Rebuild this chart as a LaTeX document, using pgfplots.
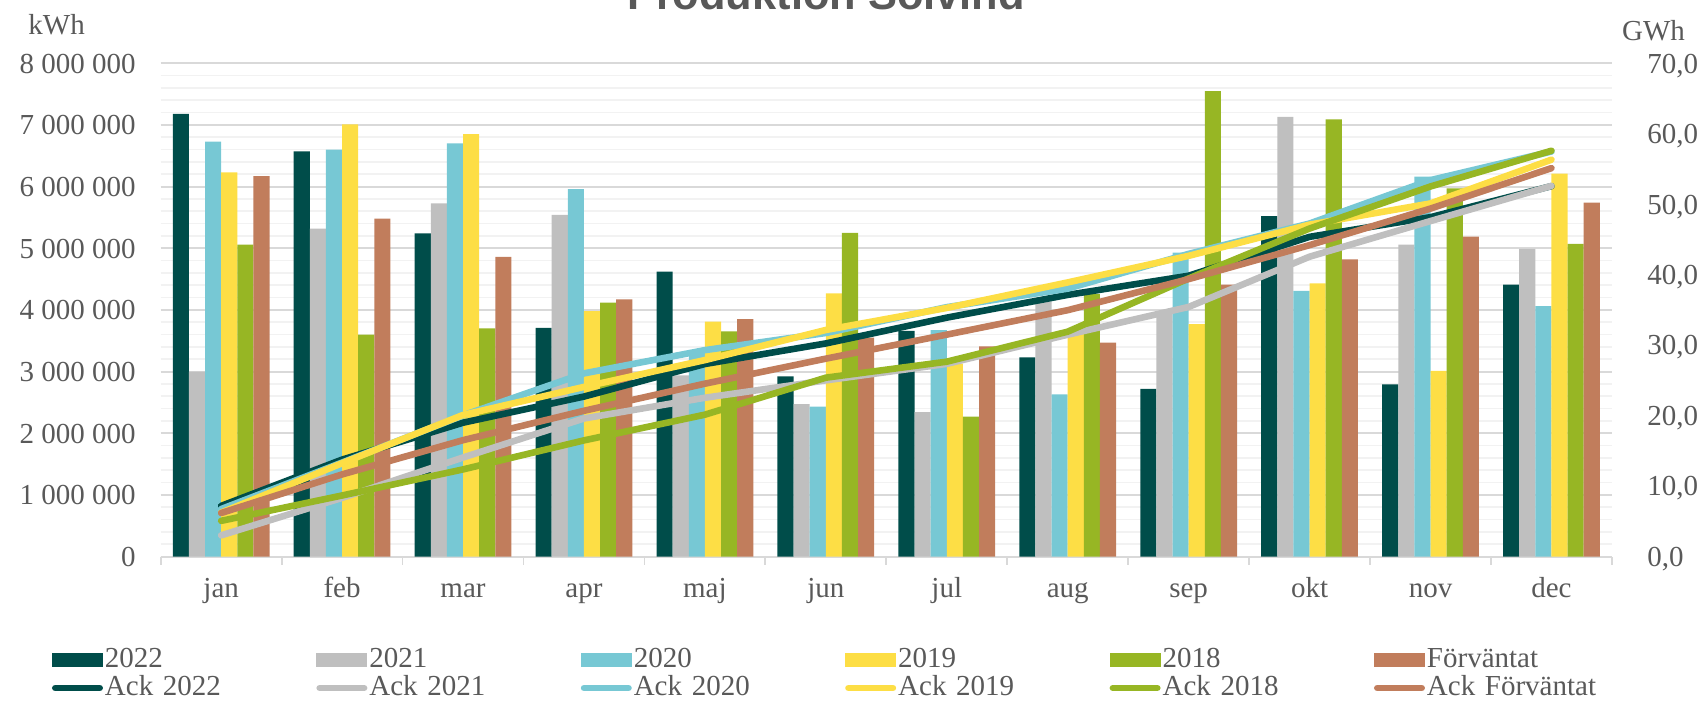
\documentclass[border=0pt]{standalone}
\usepackage{fontspec}
\setmainfont{Liberation Serif}
\newfontfamily\titlefont{Liberation Sans}
\usepackage{pgfplots}
\usepackage{pgfplotstable}
\pgfplotsset{compat=1.18}

\definecolor{c2022}{HTML}{004D4A}
\definecolor{c2021}{HTML}{BFBFBF}
\definecolor{c2020}{HTML}{77C8D4}
\definecolor{c2019}{HTML}{FDDE45}
\definecolor{c2018}{HTML}{97B624}
\definecolor{cforv}{HTML}{C17D5C}
\definecolor{labelgray}{HTML}{595959}
\definecolor{gridmajor}{HTML}{D9D9D9}
\definecolor{gridminor}{HTML}{F2F2F2}

\tikzset{lbl/.style={font=\fontsize{14.5}{17}\selectfont, text=labelgray}}
\pgfplotsset{
  barleg/.style={legend image code/.code={\fill[##1] (0pt,-3.4pt) rectangle (25.5pt,3.4pt);}},
  ackleg/.style={legend image code/.code={\draw[##1] (1.65pt,0pt) -- (23.85pt,0pt);}},
  ack/.style={line width=3.3pt, line join=round, line cap=round, mark=none},
}

\pgfplotstableread{
x b2022 b2021 b2020 b2019 b2018 bforv
0 7180000 3000000 6730000 6230000 5060000 6170000
1 6570000 5320000 6600000 7010000 3600000 5480000
2 5240000 5730000 6700000 6850000 3700000 4860000
3 3710000 5540000 5960000 3980000 4120000 4170000
4 4620000 2940000 3300000 3810000 3650000 3850000
5 2920000 2470000 2430000 4270000 5250000 3550000
6 3660000 2340000 3670000 3130000 2270000 3410000
7 3230000 4140000 2630000 3620000 4260000 3470000
8 2720000 3940000 4930000 3770000 7550000 4410000
9 5520000 7130000 4310000 4430000 7090000 4820000
10 2790000 5060000 6160000 3010000 5970000 5190000
11 4410000 4990000 4060000 6210000 5070000 5740000
}\bars

\pgfplotstableread{
x a2022 a2021 a2020 a2019 a2018 aforv
0 7.18 3.00 6.73 6.23 5.06 6.17
1 13.75 8.32 13.33 13.24 8.66 11.65
2 18.99 14.05 20.03 20.09 12.36 16.51
3 22.70 19.59 25.99 24.07 16.48 20.68
4 27.32 22.53 29.29 27.88 20.13 24.53
5 30.24 25.00 31.72 32.15 25.38 28.08
6 33.90 27.34 35.39 35.28 27.65 31.49
7 37.13 31.48 38.02 38.90 31.91 34.96
8 39.85 35.42 42.95 42.67 39.46 39.37
9 45.37 42.55 47.26 47.10 46.55 44.19
10 48.16 47.61 53.42 50.11 52.52 49.38
11 52.57 52.60 57.48 56.32 57.59 55.12
}\acks

\begin{document}
\begin{tikzpicture}
\begin{axis}[
  scale only axis, width=725.6pt, height=246.6pt,
  xmin=-0.5, xmax=11.5, ymin=0, ymax=8000000,
  scaled y ticks=false,
  axis x line*=bottom, axis y line*=left,
  x axis line style={draw=gridmajor, line width=0.9pt},
  y axis line style={draw=none},
  xtick={0,...,11},
  xticklabels={jan,feb,mar,apr,maj,jun,jul,aug,sep,okt,nov,dec},
  minor xtick={-0.5,0.5,...,11.5},
  ytick={0,1000000,2000000,3000000,4000000,5000000,6000000,7000000,8000000},
  yticklabels={0,1~000~000,2~000~000,3~000~000,4~000~000,5~000~000,6~000~000,7~000~000,8~000~000},
  minor y tick num=4,
  ymajorgrids, yminorgrids,
  major grid style={draw=gridmajor, line width=1pt},
  minor grid style={draw=gridminor, line width=0.8pt},
  tick align=outside,
  major tick length=0pt, minor tick length=4pt,
  major x tick style={draw=none},
  minor x tick style={draw=gridmajor, line width=0.9pt},
  ytick style={draw=none},
  tick label style={lbl},
  yticklabel style={anchor=base east, inner sep=0pt, xshift=-12.35pt, yshift=-4.9pt},
  xticklabel style={anchor=base, inner sep=0pt, yshift=-20.25pt},
  legend columns=6,
  legend cell align=left,
  legend style={at={(axis description cs:-0.0749,-0.1815)}, anchor=north west,
    draw=none, fill=none, inner sep=0pt, outer sep=0pt, column sep=0pt, row sep=0pt,
    font=\fontsize{14.5}{17}\selectfont, text=labelgray,
    nodes={text width=104.7pt, align=left, text height=9.5pt, text depth=2.5pt, inner xsep=1pt, inner ysep=1pt}},
]
\addplot[ybar, bar width=0.13333, bar shift=-0.33333, fill=c2022, draw=none, barleg] table[x=x, y=b2022]{\bars};
\addlegendentry{2022}
\addplot[ybar, bar width=0.13333, bar shift=-0.2, fill=c2021, draw=none, barleg] table[x=x, y=b2021]{\bars};
\addlegendentry{2021}
\addplot[ybar, bar width=0.13333, bar shift=-0.066667, fill=c2020, draw=none, barleg] table[x=x, y=b2020]{\bars};
\addlegendentry{2020}
\addplot[ybar, bar width=0.13333, bar shift=0.066667, fill=c2019, draw=none, barleg] table[x=x, y=b2019]{\bars};
\addlegendentry{2019}
\addplot[ybar, bar width=0.13333, bar shift=0.2, fill=c2018, draw=none, barleg] table[x=x, y=b2018]{\bars};
\addlegendentry{2018}
\addplot[ybar, bar width=0.13333, bar shift=0.33333, fill=cforv, draw=none, barleg] table[x=x, y=bforv]{\bars};
\addlegendentry{Förväntat}
\addlegendimage{c2022, line width=3.3pt, line cap=round, ackleg}
\addlegendentry{Ack 2022}
\addlegendimage{c2021, line width=3.3pt, line cap=round, ackleg}
\addlegendentry{Ack 2021}
\addlegendimage{c2020, line width=3.3pt, line cap=round, ackleg}
\addlegendentry{Ack 2020}
\addlegendimage{c2019, line width=3.3pt, line cap=round, ackleg}
\addlegendentry{Ack 2019}
\addlegendimage{c2018, line width=3.3pt, line cap=round, ackleg}
\addlegendentry{Ack 2018}
\addlegendimage{cforv, line width=3.3pt, line cap=round, ackleg}
\addlegendentry{Ack Förväntat}
\end{axis}

\begin{axis}[
  scale only axis, width=725.6pt, height=246.6pt,
  xmin=-0.5, xmax=11.5, ymin=0, ymax=70,
  axis y line*=right, axis x line=none,
  y axis line style={draw=none},
  ytick={0,10,20,30,40,50,60,70},
  yticklabels={{0,0},{10,0},{20,0},{30,0},{40,0},{50,0},{60,0},{70,0}},
  ytick style={draw=none}, major tick length=0pt,
  tick label style={lbl},
  yticklabel style={anchor=base west, inner sep=0pt, xshift=17.5pt, yshift=-4.9pt},
]
\addplot[c2022, ack] table[x=x, y=a2022]{\acks};
\addplot[c2021, ack] table[x=x, y=a2021]{\acks};
\addplot[c2020, ack] table[x=x, y=a2020]{\acks};
\addplot[c2019, ack] table[x=x, y=a2019]{\acks};
\addplot[c2018, ack] table[x=x, y=a2018]{\acks};
\addplot[cforv, ack] table[x=x, y=aforv]{\acks};
\end{axis}

\node[anchor=base west, inner sep=0pt, lbl] at (-66.35pt,260.75pt) {kWh};
\node[anchor=base west, inner sep=0pt, lbl] at (730.5pt,257.9pt) {GWh};
\node[anchor=base, inner sep=0pt, font=\titlefont\bfseries\fontsize{21.7}{26}\selectfont, text=labelgray] at (332.65pt,273.25pt) {Produktion Solvind};

\pgfresetboundingbox
\path[use as bounding box] (-80.35pt,-72.25pt) rectangle (770.65pt,278.25pt);
\end{tikzpicture}
\end{document}
